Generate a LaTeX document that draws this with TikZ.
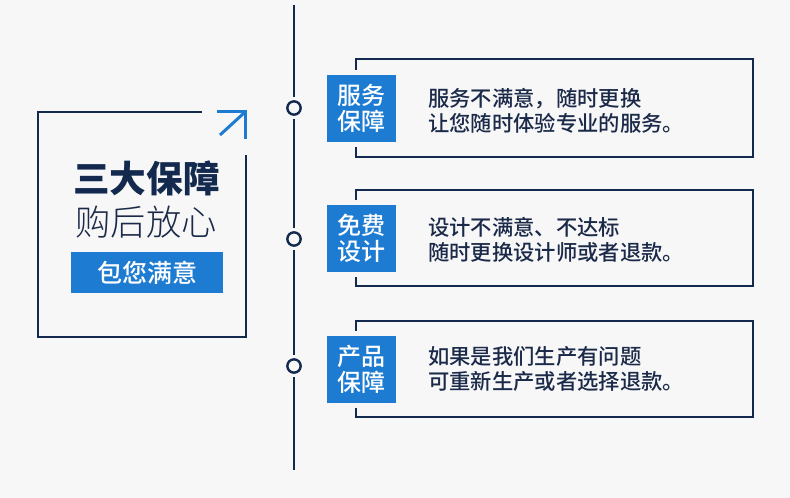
\documentclass[tikz,border=0pt]{standalone}
\usepackage{fontspec}
\newfontfamily\cjk{Noto Sans CJK SC}
\newfontfamily\cjkmed{Noto Sans CJK SC Medium}
\newfontfamily\cjklight{Noto Sans CJK SC Light}
\definecolor{bg}{HTML}{F7F7F8}
\definecolor{navy}{HTML}{132A4E}
\definecolor{ink}{HTML}{1B2A48}
\definecolor{accent}{HTML}{1E7BD2}
\begin{document}
\begin{tikzpicture}[x=0.75pt,y=-0.75pt,
  frame/.style={draw=navy,line width=1.7pt},
  card/.style={draw=navy,line width=1.1pt},
  tl/.style={draw=navy,line width=1.6pt},
  dot/.style={circle,draw=navy,line width=1.8pt,fill=bg,minimum size=10pt,inner sep=0pt},
  tag/.style={fill=accent,text=white,minimum width=51.75pt,minimum height=50.25pt,inner sep=0pt,align=center,font=\cjkmed\fontsize{18}{19.5}\selectfont},
  body/.style={anchor=west,inner sep=0pt,text=ink,align=left,font=\cjkmed\fontsize{16}{18.4}\selectfont}]
\fill[bg] (0,0) rectangle (790,498);
\useasboundingbox (0,0) rectangle (790,498);

% left frame
\draw[frame] (202,112) -- (38,112) -- (38,337) -- (246,337) -- (246,155);
\draw[accent,line width=2.25pt] (217,112) -- (245,112) -- (245,139);
\draw[accent,line width=2.25pt] (220,135) -- (244,113);
\node[inner sep=0pt,text=navy,font=\cjk\bfseries\fontsize{27.5}{27.5}\selectfont] (title) at (146.5,178) {三大保障};
\node[inner sep=0pt,text=ink,font=\cjklight\fontsize{26.5}{26.5}\selectfont] (sub) at (146,222) {购后放心};
\node[fill=accent,text=white,minimum width=114pt,minimum height=30.75pt,inner sep=0pt,font=\cjkmed\fontsize{18.75}{18.75}\selectfont] (pill) at (147,272.5) {包您满意};

% timeline
\coordinate (top) at (294,5);
\coordinate (bot) at (294,470);
\node[dot] (c1) at (294,108) {};
\node[dot] (c2) at (294,239) {};
\node[dot] (c3) at (294,366) {};
\draw[tl,shorten >=2.5pt] (top) -- (c1);
\draw[tl,shorten <=2.5pt,shorten >=2.5pt] (c1) -- (c2);
\draw[tl,shorten <=2.5pt,shorten >=2.5pt] (c2) -- (c3);
\draw[tl,shorten <=2.5pt] (c3) -- (bot);

% cards
\draw[card] (356,70) -- (356,59) -- (753,59) -- (753,157) -- (356,157) -- (356,147);
\draw[card] (356,200) -- (356,190) -- (753,190) -- (753,286) -- (356,286) -- (356,277);
\draw[card] (356,331) -- (356,321) -- (753,321) -- (753,417) -- (356,417) -- (356,408);

\node[tag] (t1) at (361.5,108.5) {服务\\保障};
\node[tag] (t2) at (361.5,238.5) {免费\\设计};
\node[tag] (t3) at (361.5,369.5) {产品\\保障};

\node[body] (d1) at (428,111) {服务不满意，随时更换\\让您随时体验专业的服务。};
\node[body] (d2) at (428,240) {设计不满意、不达标\\随时更换设计师或者退款。};
\node[body] (d3) at (428,369) {如果是我们生产有问题\\可重新生产或者选择退款。};
\end{tikzpicture}
\end{document}
